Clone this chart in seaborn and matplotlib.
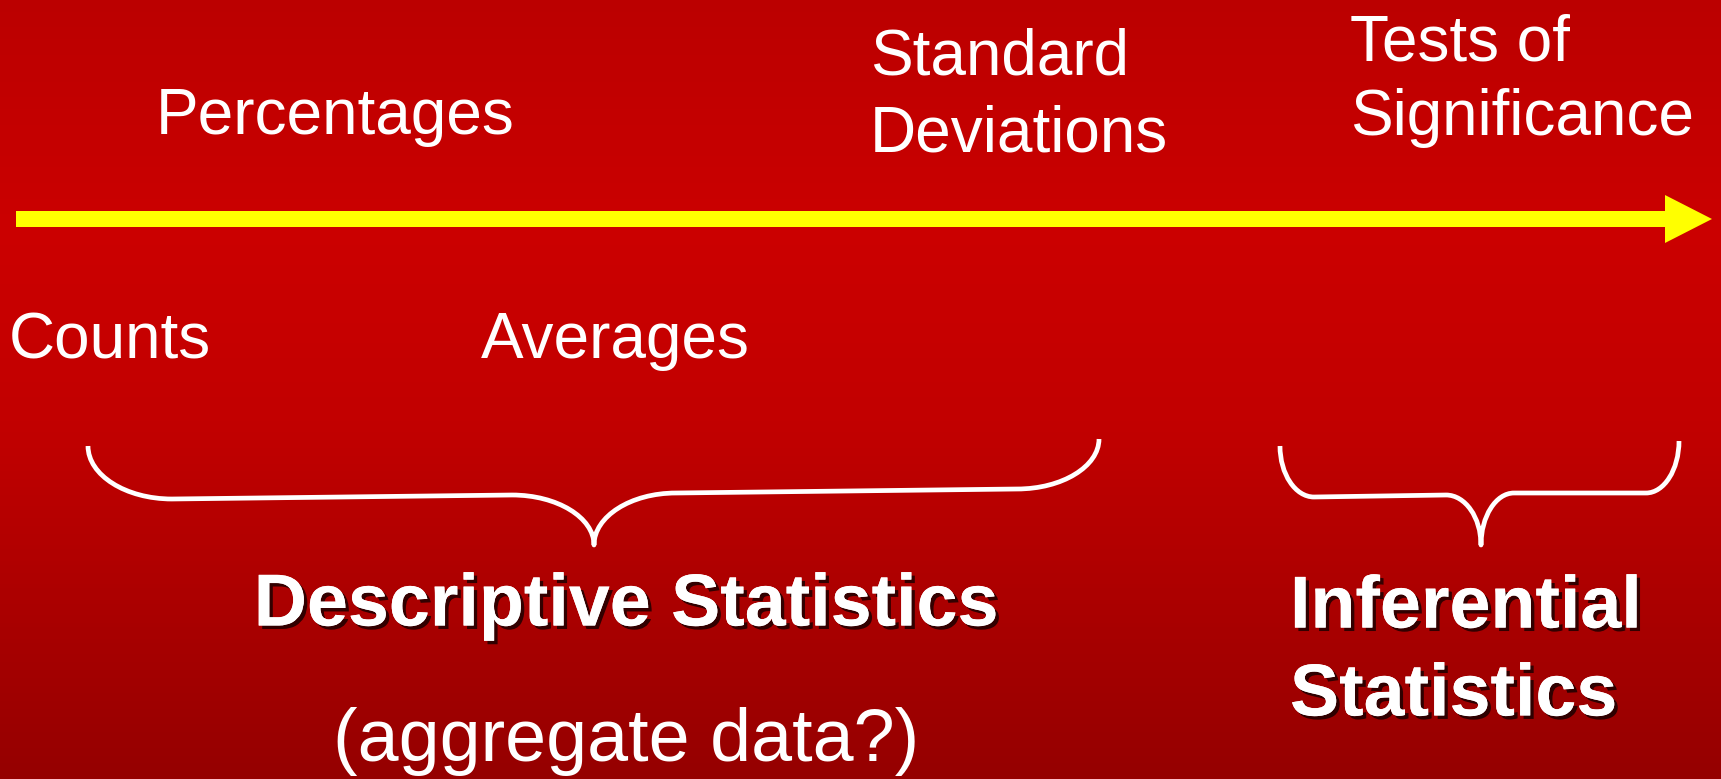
import numpy as np
import matplotlib
matplotlib.use("Agg")
import matplotlib.pyplot as plt
import matplotlib.patheffects as pe
from matplotlib.path import Path
from matplotlib.patches import PathPatch, FancyArrow
from matplotlib.colors import LinearSegmentedColormap
import seaborn as sns

# --- content ---
upper_labels = ['Percentages', 'Standard\nDeviations', 'Tests of\nSignificance']
lower_labels = ['Counts', 'Averages']
group_labels = ['Descriptive Statistics', 'Inferential\nStatistics']
sub_label = '(aggregate data?)'

# background gradient stops (fraction from top, colour)
bg_stops = [(0.0, '#bb0000'), (0.3, '#cb0000'), (0.55, '#c10000'), (1.0, '#950000')]

W, H = 1721, 779
sns.set_style('white')
plt.rcParams['font.family'] = ['Liberation Sans', 'DejaVu Sans']

fig = plt.figure(figsize=(W / 100, H / 100), dpi=100)

# background via seaborn heatmap of a vertical gradient
bg_ax = fig.add_axes([0, 0, 1, 1])
grad = np.linspace(0, 1, 200)[:, None] * np.ones((1, 4))
cmap = LinearSegmentedColormap.from_list('bg', bg_stops)
sns.heatmap(grad, cmap=cmap, cbar=False, xticklabels=False, yticklabels=False,
            ax=bg_ax, vmin=0, vmax=1)
bg_ax.set_axis_off()

ax = fig.add_axes([0, 0, 1, 1])
ax.set_xlim(0, W)
ax.set_ylim(H, 0)
ax.set_axis_off()
ax.patch.set_alpha(0)

# yellow arrow
ax.add_patch(FancyArrow(16, 219, 1696, 0, width=16, head_width=48, head_length=47,
                        length_includes_head=True, color='#ffff00', lw=0))

plain = dict(color='white', fontsize=46)
ax.text(335, 117, upper_labels[0], ha='center', va='center', **plain)
ax.text(870, 96, upper_labels[1], ha='left', va='center', linespacing=1.36, **plain)
ax.text(1350, 81, upper_labels[2], ha='left', va='center', linespacing=1.31, **plain)
ax.text(9, 341, lower_labels[0], ha='left', va='center', **plain)
ax.text(481, 341, lower_labels[1], ha='left', va='center', **plain)

shadow = [pe.withSimplePatchShadow(offset=(2.5, -2.5), shadow_rgbFace='black', alpha=0.7),
          pe.Normal()]
ax.text(626, 606, group_labels[0], ha='center', va='center', color='white',
        fontsize=53, fontweight='bold', path_effects=shadow)
ax.text(1290, 652, group_labels[1], ha='left', va='center', color='white',
        fontsize=53, fontweight='bold', linespacing=1.35, path_effects=shadow)
ax.text(626, 761, sub_label, ha='center', va='baseline', **dict(plain, fontsize=53))


def brace(x0, y0, xc1, yb1, xm1, ym1, xt, yt, xm2, ym2, xc2, yb2, x1, y1):
    k = 0.55
    verts = [(x0, y0),
             (x0, y0 + k * (yb1 - y0)), (xc1 - k * (xc1 - x0), yb1), (xc1, yb1),
             (xm1, ym1),
             (xm1 + k * (xt - xm1), ym1), (xt, yt - k * (yt - ym1)), (xt, yt),
             (xt, yt - k * (yt - ym2)), (xm2 - k * (xm2 - xt), ym2), (xm2, ym2),
             (xc2, yb2),
             (xc2 + k * (x1 - xc2), yb2), (x1, y1 + k * (yb2 - y1)), (x1, y1)]
    codes = ([Path.MOVETO] + [Path.CURVE4] * 3 + [Path.LINETO] + [Path.CURVE4] * 6 +
             [Path.LINETO] + [Path.CURVE4] * 3)
    ax.add_patch(PathPatch(Path(verts, codes), fill=False, ec='white', lw=3.4,
                           capstyle='butt', joinstyle='round'))


brace(88, 446, 172, 499, 512, 495, 594, 545, 676, 493, 1017, 489, 1099, 439)
brace(1280, 446, 1314, 497, 1446, 495, 1481, 545, 1514, 493, 1646, 493, 1679, 441)

fig.savefig('out.png', dpi=100)
